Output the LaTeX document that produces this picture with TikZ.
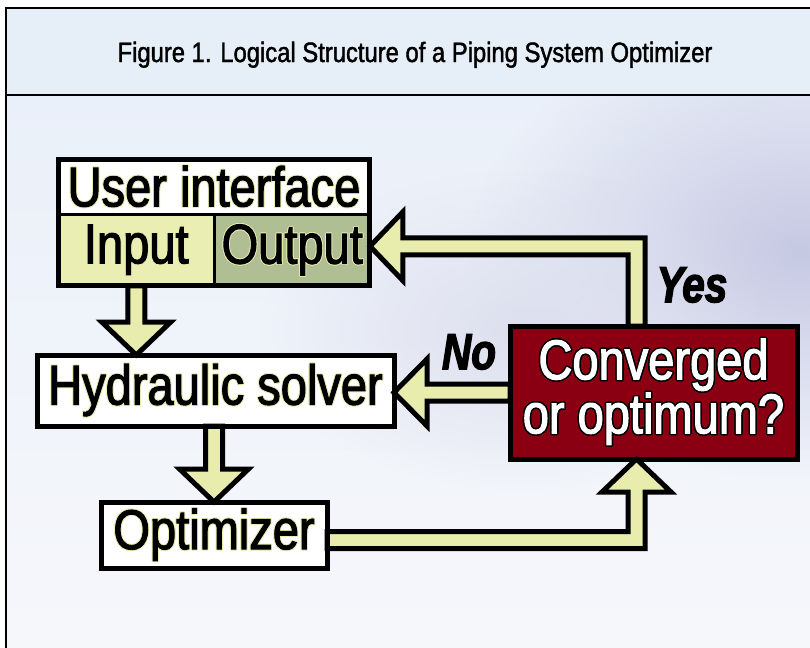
\documentclass[tikz,border=0pt]{standalone}
\usepackage{fontspec}
\setmainfont{Liberation Sans}[FakeStretch=0.85]
\newfontfamily\heavyfont{Liberation Sans}[FakeStretch=0.84, FakeBold=2]
\newfontfamily\titlefont{Liberation Sans}[FakeStretch=0.85, FakeBold=1.5]
\newfontfamily\ynfont{Liberation Sans Bold Italic}[FakeStretch=0.8, FakeBold=2.5]
\usepackage{contour}
\usetikzlibrary{calc,fadings}
\tikzfading[name=radfade, inner color=transparent!0, outer color=transparent!100]
\definecolor{hdrbg}{HTML}{E6EEF8}
\definecolor{bodytop}{HTML}{EAF0F9}
\definecolor{bodybot}{HTML}{F6F7FB}
\definecolor{lav}{HTML}{C6C9E3}
\definecolor{ayel}{HTML}{E8ECAC}
\definecolor{inyel}{HTML}{EAEEB2}
\definecolor{outgrn}{HTML}{B0BF93}
\definecolor{convred}{HTML}{8A0012}
\tikzset{
  boxfont/.style={font=\heavyfont\fontsize{42}{40.5}\selectfont},
  box/.style={draw=black, line width=3.75pt, fill=white, inner sep=0pt, outer sep=0pt, boxfont},
  cell/.style={draw=black, line width=2.25pt, inner sep=0pt, outer sep=0pt, boxfont},
  barrow/.style={draw=black, fill=ayel, line width=3.75pt, line join=miter, miter limit=10},
  yn/.style={font=\ynfont\fontsize{38}{40}\selectfont, inner sep=0pt},
}
\newcommand\ctr[1]{\contourlength{0.6pt}\contour{ayel}{#1}}
\newcommand\wtr[1]{\contourlength{1.1pt}\contour{black}{\textcolor{white}{#1}}}
\begin{document}
\begin{tikzpicture}[x=0.75pt,y=-0.75pt]
\useasboundingbox (0,0) rectangle (810,647);
% background
\fill[white] (0,0) rectangle (810,647);
\fill[hdrbg] (6,8) rectangle (810,95);
\begin{scope}
  \clip (6,95) rectangle (810,647);
  \shade[top color=bodytop, bottom color=bodybot] (6,95) rectangle (810,647);
  \fill[lav, path fading=radfade] (800,250) ellipse [x radius=330, y radius=230];
  \fill[lav!60, path fading=radfade] (520,330) ellipse [x radius=260, y radius=160];
\end{scope}
\draw[line width=1.8pt] (6,660) |- (830,8);
\draw[line width=1.8pt] (6,95) -- (830,95);
\node[font=\titlefont\fontsize{21}{24}\selectfont, anchor=base, inner sep=0pt] (title) at (415,62) {Figure 1. Logical Structure of a Piping System Optimizer};

% boxes (positions)
\path
  (214,186.75) coordinate (uic)
  (136.25,250.25) coordinate (inc)
  (292.25,250.25) coordinate (outc)
  (215.5,390.5) coordinate (hydc)
  (214,535) coordinate (optc)
  (653.5,392.5) coordinate (convc);
\node[box, minimum width=234pt, minimum height=41.6pt, draw=none] (uititle) at (uic) {\ctr{User interface}};
\node[box, minimum width=267.75pt, minimum height=53.25pt] (hyd) at (hydc) {\ctr{Hydraulic solver}};
\node[box, minimum width=169.5pt, minimum height=49.5pt] (opt) at (optc) {\ctr{Optimizer}};
\node[box, fill=convred, minimum width=215.25pt, minimum height=99.75pt, align=center] (conv) at (convc) {\wtr{Converged}\\\wtr{or optimum?}};
\node[cell, fill=inyel, minimum width=117.4pt, minimum height=53.6pt] (inp) at (inc) {\ctr{Input}};
\node[cell, fill=outgrn, minimum width=116.6pt, minimum height=53.6pt] (outp) at (outc) {\ctr{Output}};

% connectors
\coordinate (a1t) at (inp.south |- hyd.north);
\draw[barrow] ($(inp.south)+(-8.5,0)$) -- ($(a1t)+(-8.5,-33)$) -- ($(a1t)+(-34.5,-33)$) -- (a1t)
  -- ($(a1t)+(34.5,-33)$) -- ($(a1t)+(8.5,-33)$) -- ($(inp.south)+(8.5,0)$) -- cycle;
\coordinate (a2s) at (hyd.south -| opt.north);
\draw[barrow] ($(a2s)+(-8.5,0)$) -- ($(opt.north)+(-8.5,-33)$) -- ($(opt.north)+(-34.5,-33)$) -- (opt.north)
  -- ($(opt.north)+(34.5,-33)$) -- ($(opt.north)+(8.5,-33)$) -- ($(a2s)+(8.5,0)$) -- cycle;
% optimizer -> converged
\coordinate (a3s) at ($(opt.east)+(0,5)$);
\coordinate (a3t) at ($(conv.south)+(-17,0)$);
\coordinate (a3c) at (a3t |- a3s);
\draw[barrow] ($(a3s)+(0,-8.5)$) -- ($(a3c)+(-8.5,-8.5)$) -- ($(a3t)+(-8.5,33)$) -- ($(a3t)+(-34.5,33)$) -- (a3t)
  -- ($(a3t)+(34.5,33)$) -- ($(a3t)+(8.5,33)$) -- ($(a3c)+(8.5,8.5)$) -- ($(a3s)+(0,8.5)$) -- cycle;
% converged -> output (Yes)
\coordinate (a4s) at ($(conv.north)+(-17,0)$);
\coordinate (a4t) at ($(outp.east)+(0,-4)$);
\coordinate (a4c) at (a4s |- a4t);
\draw[barrow] ($(a4s)+(-8.5,0)$) -- ($(a4c)+(-8.5,8.5)$) -- ($(a4t)+(33,8.5)$) -- ($(a4t)+(33,34.5)$) -- (a4t)
  -- ($(a4t)+(33,-34.5)$) -- ($(a4t)+(33,-8.5)$) -- ($(a4c)+(8.5,-8.5)$) -- ($(a4s)+(8.5,0)$) -- cycle;
% converged -> hydraulic (No)
\coordinate (a5t) at (conv.west -| hyd.east);
\draw[barrow] ($(conv.west)+(0,-8.5)$) -- ($(a5t)+(33,-8.5)$) -- ($(a5t)+(33,-33.5)$) -- (a5t)
  -- ($(a5t)+(33,33.5)$) -- ($(a5t)+(33,8.5)$) -- ($(conv.west)+(0,8.5)$) -- cycle;

% redraw box borders on top of arrow ends
\draw[line width=3.75pt] (hyd.north west) rectangle (hyd.south east);
\draw[line width=3.75pt] (opt.north west) rectangle (opt.south east);
\draw[line width=3.75pt] (conv.north west) rectangle (conv.south east);
\draw[line width=3.75pt] (uititle.north west) rectangle (outp.south east);

\node[yn] (yes) at (692,285) {Yes};
\node[yn] (no) at (469,352) {No};
\end{tikzpicture}
\end{document}
